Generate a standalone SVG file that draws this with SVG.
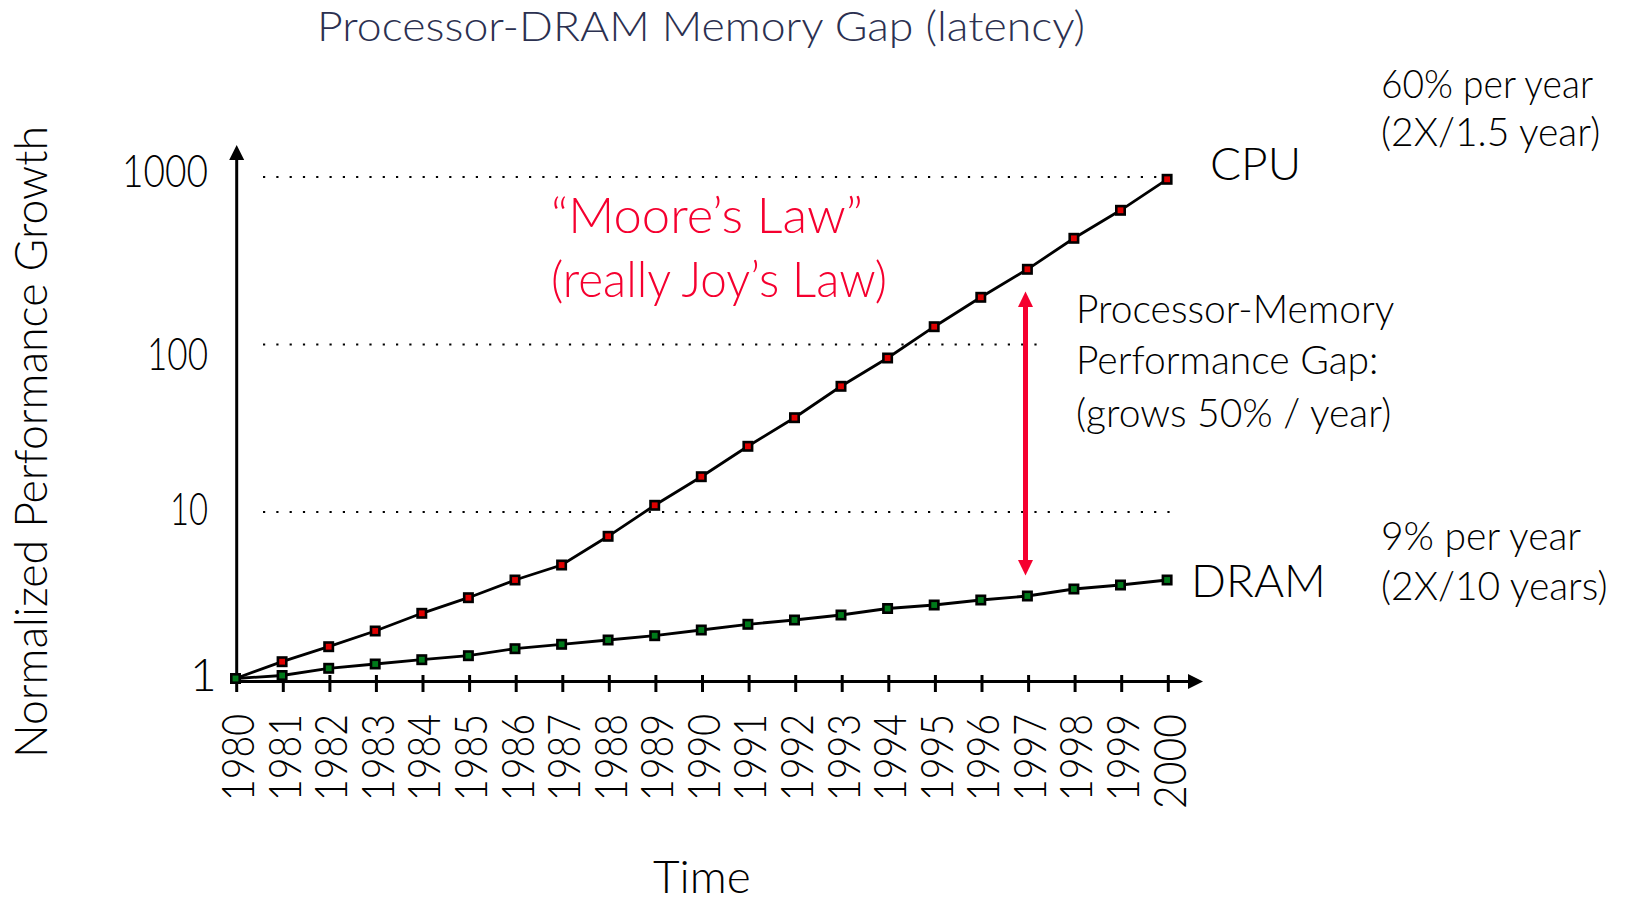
<svg xmlns="http://www.w3.org/2000/svg" width="1625" height="902" viewBox="0 0 1625 902">
<style>
  text { font-family: "Lato", "Open Sans", "Liberation Sans", sans-serif; font-weight: 300; }
  .title { fill: #2b3050; font-size: 42px; }
  .red { fill: #f5002f; font-size: 50px; }
  .tick-lbl { font-size: 46px; fill: #000; }
  .yr { font-size: 46px; fill: #000; }
  .lbl { font-size: 46px; fill: #000; }
  .note { font-size: 39px; fill: #000; }
  .grid { stroke: #000; stroke-width: 2.2; stroke-dasharray: 2.2 11.1; fill: none; }
  .axis { stroke: #000; stroke-width: 3; fill: none; }
  .series { stroke: #000; stroke-width: 2.8; fill: none; }
</style>
<defs>
  <marker id="mRed" markerWidth="14" markerHeight="14" refX="7" refY="7" markerUnits="userSpaceOnUse">
    <rect x="2.8" y="2.8" width="8.4" height="8.4" fill="#e00000" stroke="#000" stroke-width="2.6"/>
  </marker>
  <marker id="mGreen" markerWidth="14" markerHeight="14" refX="7" refY="7" markerUnits="userSpaceOnUse">
    <rect x="2.8" y="2.8" width="8.4" height="8.4" fill="#007a1a" stroke="#000" stroke-width="2.6"/>
  </marker>
</defs>
<rect width="1625" height="902" fill="#fff"/>

<g id="title">
  <text class="title" x="317" y="41" textLength="768" lengthAdjust="spacingAndGlyphs">Processor-DRAM Memory Gap (latency)</text>
</g>

<g id="grid">
  <line class="grid" x1="263" y1="177" x2="1165" y2="177"/>
  <line class="grid" x1="263" y1="344.5" x2="1047" y2="344.5"/>
  <line class="grid" x1="263" y1="512" x2="1170" y2="512"/>
</g>

<g id="axes">
  <line class="axis" x1="236.7" y1="692" x2="236.7" y2="158"/>
  <polygon points="229.2,160 244.2,160 236.7,145" fill="#000"/>
  <line class="axis" x1="235.2" y1="681.5" x2="1190" y2="681.5"/>
  <polygon points="1188,674 1188,689 1203,681.5" fill="#000"/>
  <g id="ticks" stroke="#000" stroke-width="3">
    <line x1="283.3" y1="675" x2="283.3" y2="692"/>
    <line x1="329.9" y1="675" x2="329.9" y2="692"/>
    <line x1="376.4" y1="675" x2="376.4" y2="692"/>
    <line x1="423.0" y1="675" x2="423.0" y2="692"/>
    <line x1="469.6" y1="675" x2="469.6" y2="692"/>
    <line x1="516.2" y1="675" x2="516.2" y2="692"/>
    <line x1="562.8" y1="675" x2="562.8" y2="692"/>
    <line x1="609.3" y1="675" x2="609.3" y2="692"/>
    <line x1="655.9" y1="675" x2="655.9" y2="692"/>
    <line x1="702.5" y1="675" x2="702.5" y2="692"/>
    <line x1="749.1" y1="675" x2="749.1" y2="692"/>
    <line x1="795.7" y1="675" x2="795.7" y2="692"/>
    <line x1="842.2" y1="675" x2="842.2" y2="692"/>
    <line x1="888.8" y1="675" x2="888.8" y2="692"/>
    <line x1="935.4" y1="675" x2="935.4" y2="692"/>
    <line x1="982.0" y1="675" x2="982.0" y2="692"/>
    <line x1="1028.6" y1="675" x2="1028.6" y2="692"/>
    <line x1="1075.1" y1="675" x2="1075.1" y2="692"/>
    <line x1="1121.7" y1="675" x2="1121.7" y2="692"/>
    <line x1="1168.3" y1="675" x2="1168.3" y2="692"/>
  </g>
</g>

<g id="y-labels">
  <text class="tick-lbl" x="122" y="187" textLength="86" lengthAdjust="spacingAndGlyphs">1000</text>
  <text class="tick-lbl" x="147" y="370" textLength="61" lengthAdjust="spacingAndGlyphs">100</text>
  <text class="tick-lbl" x="170" y="525" textLength="38" lengthAdjust="spacingAndGlyphs">10</text>
  <text class="tick-lbl" x="190" y="691">1</text>
</g>

<g id="y-title">
  <text class="lbl" text-anchor="middle" transform="translate(47,442) rotate(-90)" textLength="632" lengthAdjust="spacingAndGlyphs" style="font-size:45px">Normalized Performance Growth</text>
</g>

<g id="x-labels">
  <text class="yr" transform="translate(254,801) rotate(-90)" textLength="87" lengthAdjust="spacingAndGlyphs">1980</text>
  <text class="yr" transform="translate(300.6,801) rotate(-90)" textLength="87" lengthAdjust="spacingAndGlyphs">1981</text>
  <text class="yr" transform="translate(347.2,801) rotate(-90)" textLength="87" lengthAdjust="spacingAndGlyphs">1982</text>
  <text class="yr" transform="translate(393.7,801) rotate(-90)" textLength="87" lengthAdjust="spacingAndGlyphs">1983</text>
  <text class="yr" transform="translate(440.3,801) rotate(-90)" textLength="87" lengthAdjust="spacingAndGlyphs">1984</text>
  <text class="yr" transform="translate(486.9,801) rotate(-90)" textLength="87" lengthAdjust="spacingAndGlyphs">1985</text>
  <text class="yr" transform="translate(533.5,801) rotate(-90)" textLength="87" lengthAdjust="spacingAndGlyphs">1986</text>
  <text class="yr" transform="translate(580.1,801) rotate(-90)" textLength="87" lengthAdjust="spacingAndGlyphs">1987</text>
  <text class="yr" transform="translate(626.6,801) rotate(-90)" textLength="87" lengthAdjust="spacingAndGlyphs">1988</text>
  <text class="yr" transform="translate(673.2,801) rotate(-90)" textLength="87" lengthAdjust="spacingAndGlyphs">1989</text>
  <text class="yr" transform="translate(719.8,801) rotate(-90)" textLength="87" lengthAdjust="spacingAndGlyphs">1990</text>
  <text class="yr" transform="translate(766.4,801) rotate(-90)" textLength="87" lengthAdjust="spacingAndGlyphs">1991</text>
  <text class="yr" transform="translate(813.0,801) rotate(-90)" textLength="87" lengthAdjust="spacingAndGlyphs">1992</text>
  <text class="yr" transform="translate(859.5,801) rotate(-90)" textLength="87" lengthAdjust="spacingAndGlyphs">1993</text>
  <text class="yr" transform="translate(906.1,801) rotate(-90)" textLength="87" lengthAdjust="spacingAndGlyphs">1994</text>
  <text class="yr" transform="translate(952.7,801) rotate(-90)" textLength="87" lengthAdjust="spacingAndGlyphs">1995</text>
  <text class="yr" transform="translate(999.3,801) rotate(-90)" textLength="87" lengthAdjust="spacingAndGlyphs">1996</text>
  <text class="yr" transform="translate(1045.9,801) rotate(-90)" textLength="87" lengthAdjust="spacingAndGlyphs">1997</text>
  <text class="yr" transform="translate(1092.4,801) rotate(-90)" textLength="87" lengthAdjust="spacingAndGlyphs">1998</text>
  <text class="yr" transform="translate(1139.0,801) rotate(-90)" textLength="87" lengthAdjust="spacingAndGlyphs">1999</text>
  <text class="yr" transform="translate(1185.6,809) rotate(-90)" textLength="95" lengthAdjust="spacingAndGlyphs">2000</text>
</g>

<g id="x-title">
  <text class="lbl" x="653" y="893">Time</text>
</g>

<g id="connectors">
  <polyline id="cpu-line" class="series" marker-start="url(#mRed)" marker-mid="url(#mRed)" marker-end="url(#mRed)"
    points="235.5,678.5 282.1,661.7 328.7,646.7 375.2,631 421.8,613.3 468.4,597.7 515.0,580 561.6,565 608.1,536.3 654.7,505.3 701.3,476.7 747.9,446.3 794.5,417.7 841.0,386.3 887.6,358 934.2,326.7 980.8,297.3 1027.4,269.3 1073.9,238.3 1120.5,210.3 1167.1,179.3"/>
  <polyline id="dram-line" class="series" marker-start="url(#mGreen)" marker-mid="url(#mGreen)" marker-end="url(#mGreen)"
    points="235.5,678.5 282.1,675.5 328.7,668.3 375.2,664 421.8,659.7 468.4,655.7 515.0,648.7 561.6,644.3 608.1,640 654.7,635.7 701.3,630 747.9,624.3 794.5,620 841.0,615 887.6,608.5 934.2,605 980.8,600 1027.4,596 1073.9,589 1120.5,585 1167.1,580"/>
  <g id="gap-arrow">
    <line x1="1025.5" y1="304" x2="1025.5" y2="562" stroke="#f5002f" stroke-width="5"/>
    <polygon points="1018,307 1033,307 1025.5,291.5" fill="#f5002f"/>
    <polygon points="1018,560 1033,560 1025.5,575.5" fill="#f5002f"/>
  </g>
</g>

<g id="moore-label">
  <text class="red" x="551" y="233" textLength="312" lengthAdjust="spacingAndGlyphs">“Moore’s Law”</text>
  <text class="red" x="551" y="297" textLength="336" lengthAdjust="spacingAndGlyphs">(really Joy’s Law)</text>
</g>

<g id="cpu-label">
  <text class="lbl" x="1210" y="180">CPU</text>
  <text class="note" x="1381" y="98" textLength="212" lengthAdjust="spacingAndGlyphs">60% per year</text>
  <text class="note" x="1381" y="146">(2X/1.5 year)</text>
</g>

<g id="gap-label">
  <text class="note" x="1076" y="323">Processor-Memory</text>
  <text class="note" x="1076" y="374">Performance Gap:</text>
  <text class="note" x="1076" y="427">(grows 50% / year)</text>
</g>

<g id="dram-label">
  <text class="lbl" x="1191" y="597">DRAM</text>
  <text class="note" x="1381" y="550">9% per year</text>
  <text class="note" x="1381" y="600">(2X/10 years)</text>
</g>
</svg>
